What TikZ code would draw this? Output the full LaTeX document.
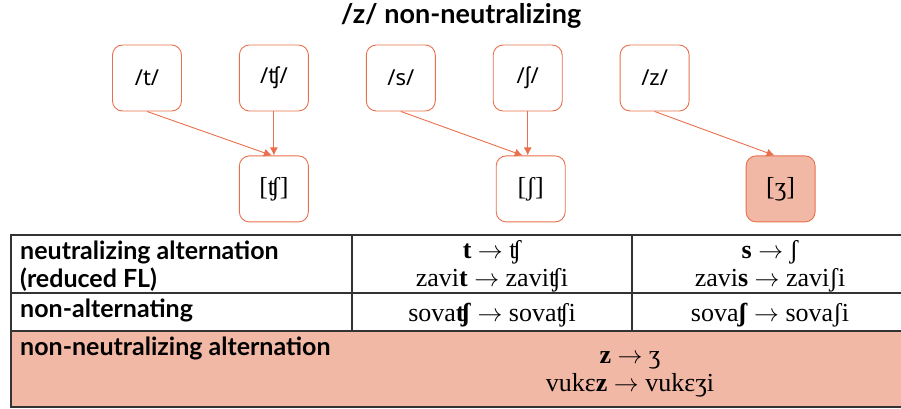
\documentclass[tikz,border=0pt]{standalone}
\usepackage{fontspec}
\setmainfont{Liberation Serif}
\newfontfamily\headfont{Lato}
\newfontfamily\ipasans{Noto Sans}
\usetikzlibrary{positioning}
\usetikzlibrary{arrows.meta}
\definecolor{boxline}{HTML}{E9704D}
\definecolor{boxfill}{HTML}{F2B8A6}
\definecolor{rulegray}{HTML}{333333}
\newcommand{\ar}{$\rightarrow$}
\tikzset{
  box/.style            = { rectangle, minimum width=69pt, minimum height=66pt },
  border/.style         = { draw=boxline, line width=0.9pt },
  round/.style          = { rounded corners=10pt },
}
\tikzset{
  phoneme/.style={
    box,
    border,
    round,
    font=\ipasans\fontsize{22}{24}\selectfont
  },
  surface/.style        = { phoneme, font=\fontsize{26}{28}\selectfont },
  maps/.style           = { draw=boxline, line width=0.9pt, -{Latex[length=8pt,width=8pt]} },
  rowlabel/.style       = { anchor=north west, inner sep=0pt, align=left,
                            font=\headfont\bfseries\fontsize{25}{28}\selectfont },
  cell/.style           = { align=center, inner sep=0pt, font=\fontsize{26}{28}\selectfont },
  grid/.style           = { draw=rulegray, line width=1.2pt }
}

\begin{document}
\begin{tikzpicture}[x=1pt, y=1pt, node distance=57pt]
  \useasboundingbox (0,0) rectangle (901,-408);
  \node (title) [font=\headfont\bfseries\fontsize{27}{30}\selectfont] at (461,-16) {/z/ non-neutralizing};

  % underlying segments
  \node (t)  [phoneme] at (147,-78) {/t/};
  \node (tS) [phoneme,right=of t]  {/ʧ/};
  \node (s)  [phoneme,right=of tS] {/s/};
  \node (S)  [phoneme,right=of s]  {/ʃ/};
  \node (z)  [phoneme,right=of S]  {/z/};

  % surface segments
  \node (tSo) [surface,below=44pt of tS]           {[ʧ]};
  \node (So)  [surface,below=44pt of S,xshift=3pt]   {[ʃ]};
  \node (Zo)  [surface,below=44pt of z,xshift=126pt,fill=boxfill] {[ʒ]};

  \draw [maps] (t.south)  -- ([xshift=-2pt]tSo.north);
  \draw [maps] (tS.south) -- (tSo.north);
  \draw [maps] (s.south)  -- ([xshift=-8pt]So.north);
  \draw [maps] (S.south)  -- (S.south |- So.north);
  \draw [maps] (z.south)  -- ([xshift=-6pt]Zo.north);

  % table
  \fill [boxfill] (11,-331) rectangle (910,-407);
  \draw [grid] (910,-235) -- (11,-235) -- (11,-407) -- (910,-407);
  \draw [grid] (11,-293) -- (910,-293);
  \draw [grid] (11,-331) -- (910,-331);
  \draw [grid] (352,-235) -- (352,-331);
  \draw [grid] (632,-235) -- (632,-331);

  \node (neut)  [rowlabel] at (20,-241) {neutralizing alternation\\(reduced FL)};
  \node (nalt)  [rowlabel] at (20,-299) {non-alternating};
  \node (nneut) [rowlabel] at (20,-337) {non-neutralizing alternation};

  \node (neutT) [cell] at (492,-266) {\textbf{t} \ar{} ʧ\\zavi\textbf{t} \ar{} zaviʧi};
  \node (neutS) [cell] at (770,-266) {\textbf{s} \ar{} ʃ\\zavi\textbf{s} \ar{} zaviʃi};
  \node (naltT) [cell] at (492,-315) {sova\textbf{ʧ} \ar{} sovaʧi};
  \node (naltS) [cell] at (770,-315) {sova\textbf{ʃ} \ar{} sovaʃi};
  \node (nneutZ) [cell] at (630,-374) {\textbf{z} \ar{} ʒ\\vukɛ\textbf{z} \ar{} vukɛʒi};
\end{tikzpicture}
\end{document}
